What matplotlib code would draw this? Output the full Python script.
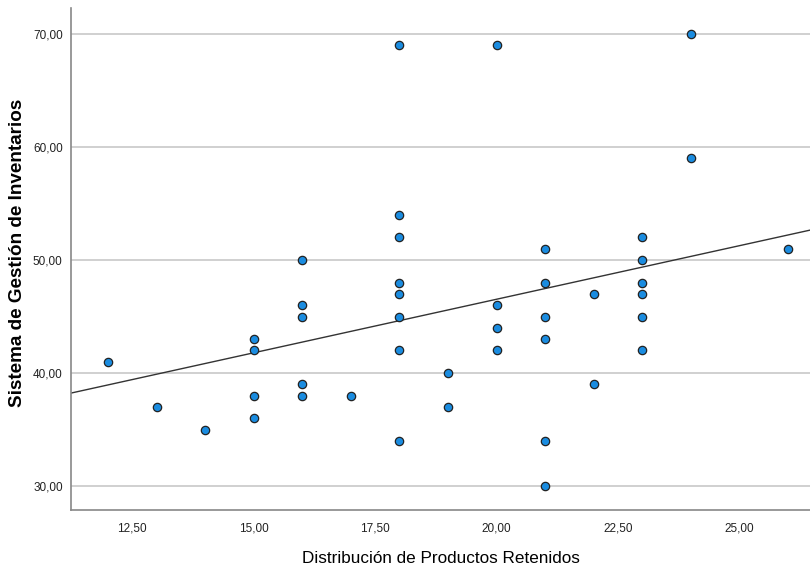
import numpy as np
import matplotlib
matplotlib.use("Agg")
import matplotlib.pyplot as plt
from matplotlib.ticker import FuncFormatter

# Distribución de Productos Retenidos (x) vs Sistema de Gestión de Inventarios (y)
dist_x = [12, 13, 14,
          15, 15, 15, 15,
          16, 16, 16, 16, 16,
          17,
          18, 18, 18, 18, 18, 18, 18, 18,
          19, 19,
          20, 20, 20, 20,
          21, 21, 21, 21, 21, 21,
          22, 22,
          23, 23, 23, 23, 23, 23,
          24, 24,
          26]
gestion_y = [41, 37, 35,
             43, 42, 38, 36,
             50, 46, 45, 39, 38,
             38,
             69, 54, 52, 48, 47, 45, 42, 34,
             40, 37,
             69, 46, 44, 42,
             51, 48, 45, 43, 34, 30,
             47, 39,
             52, 50, 48, 47, 45, 42,
             70, 59,
             51]

# fit line as drawn in the original
fit_intercept = 27.57
fit_slope = 0.948

x_ticks = [12.5, 15.0, 17.5, 20.0, 22.5, 25.0]
y_ticks = [30, 40, 50, 60, 70]

plt.rcParams['font.family'] = ['Liberation Sans', 'DejaVu Sans']

fig = plt.figure(figsize=(8.1, 5.69), dpi=100)
ax = fig.add_axes([71 / 810, 59 / 569, 1 - 71 / 810, 502 / 569])

xlim = (11.24, 26.45)
ax.set_xlim(*xlim)
ax.set_ylim(27.88, 72.3)

# horizontal gridlines
for yv in y_ticks:
    ax.axhline(yv, color='#c8c8c8', lw=1.2, zorder=0)

xs = np.array(xlim)
ax.plot(xs, fit_slope * xs + fit_intercept, color='#333333', lw=1.0, zorder=2)

ax.scatter(dist_x, gestion_y, s=36, facecolor='#1a8ce0', edgecolor='#222222',
           linewidth=0.9, zorder=3)

fmt = FuncFormatter(lambda v, p: f"{v:.2f}".replace('.', ','))
ax.set_xticks(x_ticks)
ax.set_yticks(y_ticks)
ax.xaxis.set_major_formatter(fmt)
ax.yaxis.set_major_formatter(fmt)
ax.tick_params(length=0, labelsize=8.5, colors='#222222', pad=6)
ax.tick_params(axis='x', pad=9)

for side in ['top', 'right']:
    ax.spines[side].set_visible(False)
for side in ['left', 'bottom']:
    ax.spines[side].set_color('#888888')
    ax.spines[side].set_linewidth(1.2)

ax.set_xlabel('Distribución de Productos Retenidos', fontsize=12.3, labelpad=12)
ax.set_ylabel('Sistema de Gestión de Inventarios', fontsize=13.6, fontweight='bold')
ax.yaxis.set_label_coords(-45 / 739, 0.5 + 6 / 502)

fig.savefig('out.png', dpi=100)
